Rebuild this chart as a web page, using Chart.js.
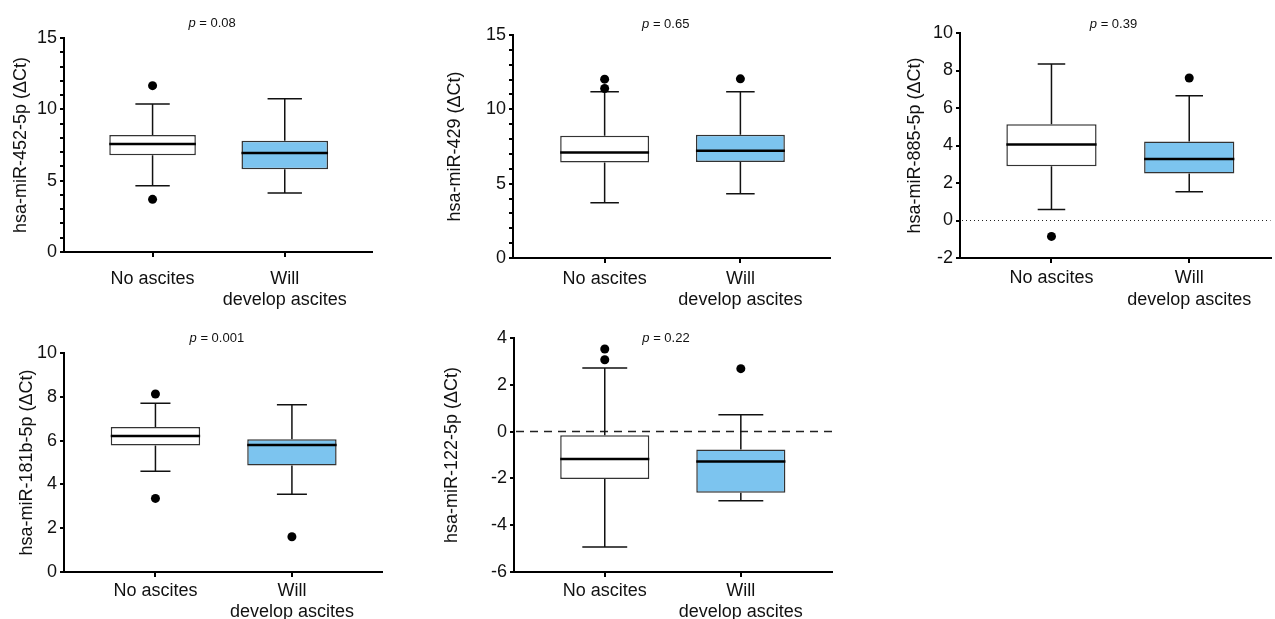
<!DOCTYPE html>
<html>
<head>
<meta charset="utf-8">
<script src="https://cdn.jsdelivr.net/npm/chart.js@4.4.1/dist/chart.umd.min.js"></script>
<style>
html, body { margin: 0; padding: 0; background: #fff; overflow: hidden; }
#wrap { position: relative; width: 1275px; height: 619px; }
canvas { position: absolute; }
</style>
</head>
<body>
<div id="wrap"></div>
<script>
// groups on the x axis
const groups = ['No ascites', ['Will', 'develop ascites']];
const mirNames = ['hsa-miR-452-5p', 'hsa-miR-429', 'hsa-miR-885-5p', 'hsa-miR-181b-5p', 'hsa-miR-122-5p'];
const pValues = ['0.08', '0.65', '0.39', '0.001', '0.22'];

// box plot values per panel: [no ascites, will develop ascites]
const whiskerLow  = [[4.65, 4.14], [3.71, 4.32], [0.59, 1.54], [4.60, 3.55], [-4.93, -2.95]];
const q1          = [[6.78, 5.80], [6.43, 6.45], [2.89, 2.51], [5.78, 4.86], [-2.03, -2.61]];
const median      = [[7.57, 6.94], [7.10, 7.22], [4.06, 3.28], [6.21, 5.80], [-1.17, -1.28]];
const q3          = [[8.20, 7.80], [8.23, 8.29], [5.13, 4.22], [6.62, 6.06], [-0.16, -0.76]];
const whiskerHigh = [[10.37, 10.75], [11.19, 11.19], [8.35, 6.66], [7.70, 7.64], [2.72, 0.72]];
const outliers    = [
    [[11.66, 3.69], []],
    [[12.03, 11.40], [12.05]],
    [[-0.85], [7.60]],
    [[8.13, 3.36], [1.61]],
    [[3.53, 3.07], [2.69]]
];

// y axis ticks
const yMin = [0, 0, -2, 0, -6];
const yMax = [15, 15, 10, 10, 4];
const yStep = [1, 1, 2, 2, 2];
const yLabelEvery = [5, 5, 2, 2, 2];

// layout of each panel on the page
const panels = [
    { left: 0,   top: 0,   width: 380, height: 310, axisW: 64,  padTop: 38, padRight: 8,  xAxisH: 58, xLabelPad: 11, titlePad: 10.5, xMin: 0.33,  xMax: 2.66, cap: 0.26, pY: 23, refLine: null },
    { left: 425, top: 0,   width: 415, height: 310, axisW: 88,  padTop: 35, padRight: 10, xAxisH: 52, xLabelPad: 5,  titlePad: 19,   xMin: 0.325, xMax: 2.66, cap: 0.21, pY: 24, refLine: null },
    { left: 850, top: 0,   width: 425, height: 310, axisW: 110, padTop: 33, padRight: 0,  xAxisH: 52, xLabelPad: 4.5, titlePad: 54,  xMin: 0.336, xMax: 2.59, cap: 0.20, pY: 24, refLine: [1, 3] },
    { left: 0,   top: 310, width: 390, height: 309, axisW: 64,  padTop: 43, padRight: 8,  xAxisH: 47, xLabelPad: 3,  titlePad: 16.7, xMin: 0.33,  xMax: 2.66, cap: 0.22, pY: 28, refLine: null },
    { left: 425, top: 310, width: 415, height: 309, axisW: 89,  padTop: 28, padRight: 8,  xAxisH: 47, xLabelPad: 3,  titlePad: 16.7, xMin: 0.333, xMax: 2.67, cap: 0.33, pY: 28, refLine: [8, 6] }
];

const boxColors = ['#ffffff', '#7cc4ef'];
const FONT = "'Liberation Sans', Arial, sans-serif";
Chart.defaults.font.family = FONT;
Chart.defaults.color = '#111';

function boxPlugin(i, cfg) {
    return {
        id: 'boxExtras' + i,
        beforeDatasetsDraw(chart) {
            const ctx = chart.ctx;
            const xs = chart.scales.x, ys = chart.scales.y;
            const area = chart.chartArea;
            ctx.save();
            // reference line at zero
            if (cfg.refLine) {
                const y0 = ys.getPixelForValue(0);
                ctx.strokeStyle = '#222';
                ctx.lineWidth = cfg.refLine[0] > 2 ? 1.5 : 1.2;
                ctx.setLineDash(cfg.refLine);
                ctx.beginPath();
                ctx.moveTo(area.left + 2, y0);
                ctx.lineTo(area.right, y0);
                ctx.stroke();
                ctx.setLineDash([]);
            }
            // whiskers
            ctx.strokeStyle = '#111';
            ctx.lineWidth = 1.5;
            for (let g = 0; g < 2; g++) {
                const cx = xs.getPixelForValue(g + 1);
                const hc = xs.getPixelForValue(g + 1 + cfg.cap / 2) - cx;
                const yLo = ys.getPixelForValue(whiskerLow[i][g]);
                const yHi = ys.getPixelForValue(whiskerHigh[i][g]);
                ctx.beginPath();
                ctx.moveTo(cx, ys.getPixelForValue(q3[i][g]));
                ctx.lineTo(cx, yHi);
                ctx.moveTo(cx - hc, yHi);
                ctx.lineTo(cx + hc, yHi);
                ctx.moveTo(cx, ys.getPixelForValue(q1[i][g]));
                ctx.lineTo(cx, yLo);
                ctx.moveTo(cx - hc, yLo);
                ctx.lineTo(cx + hc, yLo);
                ctx.stroke();
            }
            ctx.restore();
        },
        afterDatasetsDraw(chart) {
            const ctx = chart.ctx;
            const ys = chart.scales.y;
            const bars = chart.getDatasetMeta(0).data;
            ctx.save();
            ctx.strokeStyle = '#000';
            ctx.lineWidth = 2.5;
            bars.forEach((bar, g) => {
                const y = ys.getPixelForValue(median[i][g]);
                ctx.beginPath();
                ctx.moveTo(bar.x - bar.width / 2, y);
                ctx.lineTo(bar.x + bar.width / 2, y);
                ctx.stroke();
            });
            ctx.restore();
        },
        afterDraw(chart) {
            // p value above the two boxes
            const ctx = chart.ctx;
            const x = chart.scales.x.getPixelForValue(1.45);
            const rest = ' = ' + pValues[i];
            ctx.save();
            ctx.fillStyle = '#111';
            ctx.textBaseline = 'middle';
            ctx.font = 'italic 13px ' + FONT;
            const wp = ctx.measureText('p').width;
            ctx.font = '13px ' + FONT;
            const wr = ctx.measureText(rest).width;
            let sx = x - (wp + wr) / 2;
            ctx.font = 'italic 13px ' + FONT;
            ctx.textAlign = 'left';
            ctx.fillText('p', sx, cfg.pY);
            ctx.font = '13px ' + FONT;
            ctx.fillText(rest, sx + wp, cfg.pY);
            ctx.restore();
        }
    };
}

const wrap = document.getElementById('wrap');

panels.forEach((cfg, i) => {
    const canvas = document.createElement('canvas');
    canvas.width = cfg.width;
    canvas.height = cfg.height;
    canvas.style.left = cfg.left + 'px';
    canvas.style.top = cfg.top + 'px';
    wrap.appendChild(canvas);

    const boxData = [0, 1].map(g => ({ x: g + 1, y: [q1[i][g], q3[i][g]] }));
    const dots = [];
    outliers[i].forEach((list, g) => list.forEach(v => dots.push({ x: g + 1, y: v })));

    new Chart(canvas, {
        type: 'bar',
        data: {
            datasets: [{
                type: 'bar',
                data: boxData,
                backgroundColor: boxColors,
                borderColor: '#333',
                borderWidth: 1.5,
                borderSkipped: false,
                categoryPercentage: 1,
                barPercentage: 0.655
            }, {
                type: 'scatter',
                data: dots,
                pointRadius: 4.5,
                pointBackgroundColor: '#000',
                pointBorderWidth: 0
            }]
        },
        options: {
            responsive: false,
            animation: false,
            layout: { padding: { top: cfg.padTop, right: cfg.padRight, left: 0, bottom: 0 } },
            plugins: { legend: { display: false }, tooltip: { enabled: false } },
            scales: {
                x: {
                    type: 'linear',
                    offset: false,
                    min: cfg.xMin,
                    max: cfg.xMax,
                    afterBuildTicks: s => { s.ticks = [{ value: 1 }, { value: 2 }]; },
                    afterFit: s => { s.height = cfg.xAxisH; },
                    ticks: {
                        callback: v => groups[v - 1],
                        font: { size: 18, lineHeight: 1.2 },
                        color: '#111',
                        padding: cfg.xLabelPad,
                        maxRotation: 0,
                        autoSkip: false
                    },
                    grid: { offset: false, drawOnChartArea: false, drawTicks: true, tickLength: 5, color: '#000', lineWidth: 2 },
                    border: { display: true, color: '#000', width: 2 }
                },
                y: {
                    min: yMin[i],
                    max: yMax[i],
                    afterFit: s => { s.width = cfg.axisW; },
                    ticks: {
                        stepSize: yStep[i],
                        callback: v => (Math.round(v) % yLabelEvery[i] === 0 ? String(v) : ''),
                        font: { size: 18 },
                        color: '#111',
                        padding: 3,
                        autoSkip: false
                    },
                    grid: { drawOnChartArea: false, drawTicks: true, tickLength: 4, color: '#000', lineWidth: 2 },
                    border: { display: true, color: '#000', width: 2 },
                    title: {
                        display: true,
                        text: mirNames[i] + ' (\u0394Ct)',
                        font: { size: 18, lineHeight: 1.2 },
                        color: '#111',
                        padding: { top: cfg.titlePad, bottom: 0 }
                    }
                }
            }
        },
        plugins: [boxPlugin(i, cfg)]
    });
});
</script>
</body>
</html>
